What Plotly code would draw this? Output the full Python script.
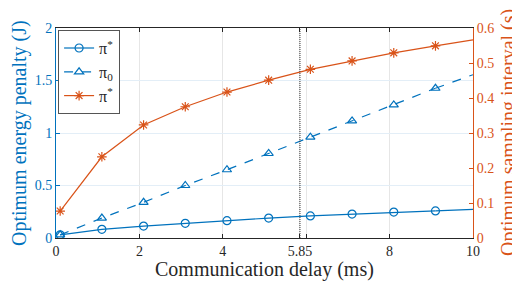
import plotly.graph_objects as go

# Data
delay_ms = [0.1, 1.1, 2.1, 3.1, 4.1, 5.1, 6.1, 7.1, 8.1, 9.1, 10.0]
energy_opt = [0.03, 0.083, 0.114, 0.14, 0.165, 0.19, 0.21, 0.228, 0.247, 0.258, 0.272]
energy_base = [0.03, 0.19, 0.34, 0.50, 0.65, 0.805, 0.96, 1.115, 1.267, 1.426, 1.555]
interval_opt = [0.077, 0.232, 0.323, 0.375, 0.417, 0.451, 0.482, 0.506, 0.529, 0.549, 0.566]
x_ticks = [0, 2, 4, 5.85, 6, 8, 10]
x_ticktext = ["0", "2", "4", "5.85", "", "8", "10"]
marker_line = 5.85

BLUE = "#0072BD"
ORANGE = "#D95319"
DARK = "#262626"
FONT = "Liberation Serif"

fig = go.Figure()

def add_series(y, name, symbol, color, dash, yaxis):
    n = len(delay_ms) - 1
    fig.add_trace(go.Scatter(
        x=delay_ms[:n], y=y[:n], name=name, mode="lines+markers",
        line=dict(color=color, width=1.2, dash=dash),
        marker=dict(symbol=symbol, size=8, color=color, line=dict(color=color, width=1.2)),
        yaxis=yaxis, legendgroup=name + symbol,
    ))
    fig.add_trace(go.Scatter(
        x=delay_ms[n - 1:], y=y[n - 1:], mode="lines", showlegend=False,
        line=dict(color=color, width=1.2, dash=dash), yaxis=yaxis,
        legendgroup=name + symbol, hoverinfo="skip",
    ))

add_series(energy_opt, "π<sup>*</sup>", "circle-open", BLUE, "solid", "y")
add_series(energy_base, "π<sub>0</sub>", "triangle-up-open", BLUE, "dash", "y")
add_series(interval_opt, "π<sup>*</sup>", "asterisk-open", ORANGE, "solid", "y2")

fig.add_shape(type="line", x0=marker_line, x1=marker_line, y0=0, y1=1,
              xref="x", yref="paper", line=dict(color="#333333", width=1, dash="1px,1px"))

TITLE_SIZE = 20
fig.add_annotation(text="Communication delay (ms)", xref="paper", yref="paper",
                   x=0.5, y=0, xanchor="center", yanchor="middle", yshift=-31,
                   showarrow=False, font=dict(family=FONT, size=TITLE_SIZE, color=DARK))
fig.add_annotation(text="Optimum energy penalty (J)", xref="paper", yref="paper",
                   x=0, y=0.5, xanchor="center", yanchor="middle", xshift=-37,
                   textangle=-90, showarrow=False,
                   font=dict(family=FONT, size=TITLE_SIZE, color=BLUE))
fig.add_annotation(text="Optimum sampling interval (s)", xref="paper", yref="paper",
                   x=1, y=0.5, xanchor="center", yanchor="middle", xshift=35,
                   textangle=-90, showarrow=False,
                   font=dict(family=FONT, size=TITLE_SIZE, color=ORANGE))

# page body adds an 8px offset; figure sized to fill the remaining window
fig.update_layout(
    width=512, height=274,
    margin=dict(l=48, r=47, t=20, b=44, autoexpand=False),
    paper_bgcolor="white", plot_bgcolor="white",
    font=dict(family=FONT, size=14, color=DARK),
    showlegend=True,
    legend=dict(x=0.005, y=0.99, xanchor="left", yanchor="top",
                bgcolor="white", bordercolor="#555555", borderwidth=1,
                font=dict(family=FONT, size=16, color=DARK),
                itemwidth=30, tracegroupgap=0),
    xaxis=dict(
        range=[0, 10], tickvals=x_ticks, ticktext=x_ticktext,
        ticks="inside", ticklen=4, tickcolor=DARK,
        showline=True, linecolor=DARK, linewidth=1, mirror="ticks",
        showgrid=True, gridcolor="#E6E6E6", gridwidth=1, zeroline=False,
        automargin=False,
        tickfont=dict(family=FONT, size=14, color=DARK),
    ),
    yaxis=dict(
        range=[0, 2], dtick=0.5, tickformat="~g",
        ticks="inside", ticklen=4, tickcolor=BLUE,
        showline=True, linecolor=BLUE, linewidth=1,
        showgrid=True, gridcolor="#E3EEF7", gridwidth=1, zeroline=False,
        automargin=False,
        tickfont=dict(family=FONT, size=14, color=BLUE),
    ),
    yaxis2=dict(
        range=[0, 0.6], dtick=0.1, tickformat="~g",
        overlaying="y", side="right", anchor="x",
        ticks="inside", ticklen=4, tickcolor=ORANGE,
        showline=True, linecolor=ORANGE, linewidth=1,
        showgrid=False, zeroline=False,
        automargin=False,
        tickfont=dict(family=FONT, size=14, color=ORANGE),
    ),
)

fig.write_html("out.html")
